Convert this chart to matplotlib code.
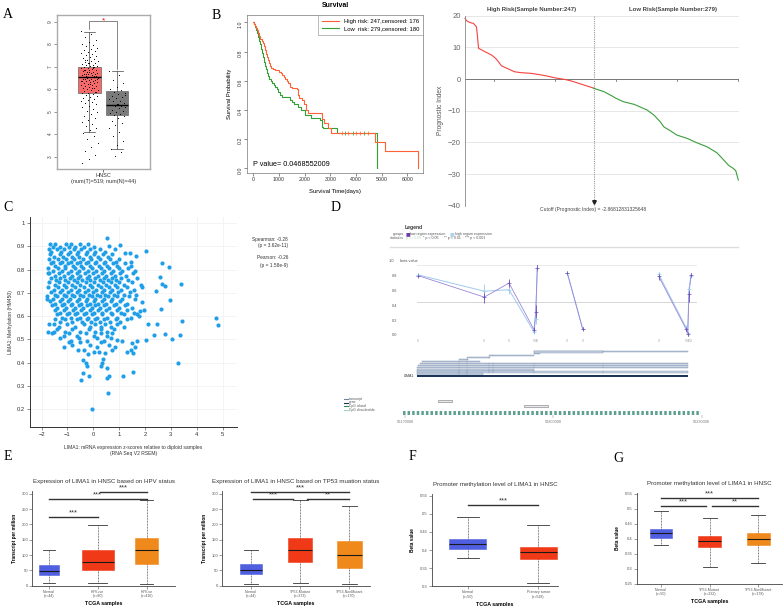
import numpy as np
import matplotlib
matplotlib.use("Agg")
import matplotlib.pyplot as plt
from matplotlib.patches import Rectangle
from matplotlib.lines import Line2D

plt.rcParams['font.family'] = ['Liberation Sans', 'DejaVu Sans']

W, H = 784, 606

# ---------------- data ----------------
# A: GEPIA expression box plot, log2(TPM+1)
a_tumor_box = dict(whislo=4.12, q1=5.82, med=6.53, q3=7.0, whishi=8.56)
a_normal_box = dict(whislo=3.36, q1=4.86, med=5.31, q3=5.94, whishi=6.81)
a_tumor_pts = [8.6, 8.45, 8.32, 8.21, 8.12, 8.03, 7.96, 7.91, 7.84, 7.8, 7.74, 7.71, 7.66, 7.6, 7.57,
               7.52, 7.47, 7.43, 7.38, 7.36, 7.31, 7.27, 7.25, 7.21, 7.18, 7.16, 7.12, 7.1, 7.07, 7.05,
               7.02, 7.0, 6.98, 6.96, 6.93, 6.91, 6.88, 6.86, 6.84, 6.81, 6.79, 6.77, 6.74, 6.72, 6.7,
               6.68, 6.66, 6.64, 6.62, 6.6, 6.58, 6.56, 6.55, 6.53, 6.51, 6.49, 6.47, 6.45, 6.43, 6.41,
               6.39, 6.37, 6.35, 6.33, 6.31, 6.29, 6.26, 6.24, 6.21, 6.19, 6.16, 6.13, 6.1, 6.07, 6.04,
               6.01, 5.98, 5.95, 5.92, 5.88, 5.85, 5.82, 5.78, 5.75, 5.71, 5.67, 5.63, 5.58, 5.54, 5.49,
               5.44, 5.38, 5.33, 5.26, 5.2, 5.13, 5.06, 4.98, 4.9, 4.83, 4.74, 4.66, 4.57, 4.48, 4.38,
               4.29, 4.18, 4.06, 3.92, 3.78, 3.62, 3.45, 3.28, 3.1, 2.92, 2.74, 6.95, 6.67, 6.48, 6.22,
               6.84, 6.58, 7.15, 6.36, 6.05, 7.32, 5.9, 6.75, 6.44, 6.97]
a_normal_pts = [6.8, 6.62, 6.41, 6.3, 6.12, 6.02, 5.95, 5.9, 5.84, 5.79, 5.71, 5.66, 5.61, 5.55, 5.5,
                5.46, 5.41, 5.36, 5.31, 5.28, 5.24, 5.2, 5.15, 5.1, 5.06, 5.01, 4.95, 4.9, 4.86, 4.8,
                4.71, 4.6, 4.52, 4.41, 4.3, 4.12, 3.91, 3.72, 3.53, 3.36, 3.2, 3.02, 5.74, 5.33]

# B: Kaplan-Meier curves
km_high_t = [0, 40, 80, 120, 160, 200, 240, 280, 320, 360, 400, 440, 480, 520, 560, 600, 650, 700,
             760, 850, 950, 1000, 1060, 1120, 1180, 1240, 1300, 1360, 1420, 1490, 1700, 1750, 1780,
             1900, 1960, 2050, 2150, 2680, 2740, 2900, 3020, 4760, 5150, 6400]
km_high_s = [1.0, 0.99, 0.975, 0.96, 0.945, 0.93, 0.905, 0.885, 0.87, 0.855, 0.835, 0.81, 0.785,
             0.76, 0.74, 0.72, 0.70, 0.685, 0.68, 0.675, 0.67, 0.66, 0.65, 0.64, 0.625, 0.61, 0.595,
             0.585, 0.56, 0.55, 0.545, 0.50, 0.48, 0.47, 0.44, 0.40, 0.377, 0.34, 0.308, 0.275, 0.24,
             0.183, 0.121, 0.0]
km_low_t = [0, 30, 60, 100, 140, 180, 220, 260, 300, 340, 380, 420, 460, 500, 540, 580, 620, 680,
            740, 800, 860, 920, 980, 1040, 1100, 1430, 1500, 1600, 1750, 1850, 2000, 2250, 2600,
            2660, 2730, 3270, 4830]
km_low_s = [1.0, 0.985, 0.97, 0.95, 0.925, 0.9, 0.875, 0.85, 0.82, 0.79, 0.76, 0.73, 0.70, 0.68,
            0.655, 0.635, 0.615, 0.60, 0.585, 0.57, 0.555, 0.54, 0.52, 0.50, 0.486, 0.47, 0.455,
            0.44, 0.42, 0.40, 0.365, 0.342, 0.33, 0.285, 0.274, 0.24, 0.0]
km_high_cens = [3440, 3700, 4000, 4160, 4480]
km_low_cens = [3560, 3900, 4300]

# B right: prognostic index curve
pi_high_idx = [0, 3, 10, 16, 22, 24, 26, 32, 41, 51, 59, 64, 70, 83, 95, 108, 127, 146, 159, 172,
               191, 204, 223, 247]
pi_high_val = [19.2, 18.4, 17.8, 17.6, 16.5, 13.4, 9.7, 9.2, 8.4, 7.6, 6.5, 5.5, 4.2, 3.2, 2.3, 2.0,
               1.8, 1.3, 0.9, 0.4, -0.1, -0.6, -1.6, -2.87]
pi_low_idx = [247, 267, 283, 290, 305, 325, 350, 363, 375, 382, 395, 407, 426, 445, 465, 484, 496,
              506, 515, 520, 525]
pi_low_val = [-2.9, -4.0, -5.4, -6.1, -7.2, -8.0, -9.8, -11.4, -13.5, -15.1, -16.4, -17.7, -18.7,
              -20.1, -21.4, -23.3, -25.4, -27.2, -28.2, -28.9, -31.9]
pi_cutoff = 247

# C: methylation vs mRNA scatter, points grouped by methylation level
c_levels = [0.912, 0.899, 0.889, 0.876, 0.868, 0.855, 0.848, 0.835, 0.827, 0.814, 0.807, 0.794,
            0.785, 0.772, 0.766, 0.754, 0.747, 0.734, 0.726, 0.712, 0.706, 0.693, 0.687, 0.674,
            0.665, 0.652, 0.647, 0.634, 0.626, 0.613, 0.607, 0.594, 0.586, 0.573, 0.567, 0.554,
            0.546, 0.533, 0.527, 0.514, 0.506, 0.494, 0.487, 0.476, 0.465, 0.456]
c_rows = [
    [-1.66, -1.47, -1.04, -0.86, -0.50, -0.21],
    [-1.57, -1.30, -0.95, -0.69, -0.37, 0.02],
    [-1.72, -1.40, -1.12, -0.76, -0.47, -0.11, 0.24, 0.82],
    [-1.63, -1.25, -0.92, -0.60, -0.25, 0.08, 0.47],
    [-1.66, -1.30, -0.99, -0.65, -0.30, 0.02, 0.37, 0.73],
    [-1.53, -1.18, -0.82, -0.54, -0.14, 0.19, 0.58],
    [-1.73, -1.38, -1.05, -0.73, -0.41, -0.08, 0.24, 0.63, 1.01],
    [-1.57, -1.21, -0.86, -0.52, -0.21, 0.12, 0.47, 0.86, 1.47],
    [-1.63, -1.27, -0.99, -0.63, -0.30, 0.06, 0.41, 0.77, 1.21],
    [-1.47, -1.10, -0.78, -0.46, -0.11, 0.21, 0.52, 0.92, 1.47],
    [-1.76, -1.38, -1.08, -0.72, -0.39, -0.04, 0.28, 0.60, 0.99, 1.35],
    [-1.56, -1.21, -0.88, -0.56, -0.21, 0.12, 0.43, 0.76, 1.12, 1.63],
    [-1.70, -1.34, -0.97, -0.65, -0.33, -0.01, 0.34, 0.67, 1.05, 1.54],
    [-1.49, -1.14, -0.81, -0.50, -0.16, 0.19, 0.51, 0.82, 1.25],
    [-1.63, -1.29, -0.91, -0.60, -0.26, 0.08, 0.41, 0.73, 1.08, 1.70],
    [-1.43, -1.08, -0.76, -0.42, -0.11, 0.25, 0.56, 0.86, 1.34],
    [-1.70, -1.34, -0.97, -0.65, -0.30, 0.02, 0.36, 0.67, 1.00, 1.51],
    [-1.50, -1.14, -0.82, -0.50, -0.14, 0.19, 0.51, 0.82, 1.17, 1.83],
    [-1.74, -1.36, -1.04, -0.72, -0.37, -0.04, 0.28, 0.59, 0.92, 1.31, 1.89],
    [-1.53, -1.21, -0.88, -0.54, -0.21, 0.12, 0.43, 0.74, 1.08, 1.57],
    [-1.63, -1.30, -0.97, -0.65, -0.33, -0.01, 0.32, 0.63, 0.95, 1.42],
    [-1.47, -1.14, -0.82, -0.50, -0.17, 0.15, 0.47, 0.80, 1.18, 1.67],
    [-1.79, -1.40, -1.07, -0.73, -0.39, -0.07, 0.25, 0.56, 0.90, 1.38],
    [-1.57, -1.23, -0.91, -0.56, -0.24, 0.08, 0.41, 0.73, 1.12, 1.63],
    [-1.66, -1.30, -0.97, -0.63, -0.29, 0.02, 0.34, 0.67, 1.05],
    [-1.47, -1.14, -0.81, -0.46, -0.14, 0.19, 0.51, 0.86, 1.31],
    [-1.59, -1.21, -0.88, -0.55, -0.24, 0.08, 0.43, 0.80, 1.21],
    [-1.40, -1.04, -0.72, -0.39, -0.07, 0.25, 0.60, 0.99, 1.51],
    [-1.50, -1.12, -0.78, -0.46, -0.14, 0.19, 0.51, 0.90, 1.29, 1.96],
    [-1.30, -0.95, -0.63, -0.30, 0.02, 0.34, 0.69, 1.08, 1.57],
    [-1.40, -1.01, -0.69, -0.37, -0.04, 0.34, 0.73, 1.18, 1.70],
    [-1.21, -0.86, -0.52, -0.21, 0.15, 0.54, 0.92, 1.44],
    [-1.47, -1.08, -0.63, -0.26, 0.08, 0.43, 0.86, 1.31],
    [-1.27, -0.82, -0.43, -0.08, 0.25, 0.64, 1.05],
    [-1.53, -1.01, -0.37, 0.08, 0.47, 0.92],
    [-1.34, -0.69, -0.11, 0.28, 0.67, 1.18],
    [-1.40, -0.82, -0.17, 0.28, 0.80],
    [-1.08, -0.50, 0.08, 0.54],
    [-1.59, -0.95, -0.30, 0.28, 0.73],
    [-1.14, -0.63, 0.02, 0.54],
    [-1.27, -0.56, 0.15, 0.67],
    [-0.88, -0.24, 0.41],
    [-0.95, -0.50, 0.28],
    [-0.82, -0.11, 0.60],
    [-1.14, 0.15],
    [-0.37, 0.73],
]
c_out_x = [0.54, 0.62, 1.05, 1.23, 1.42, 1.65, 2.03, 2.65, 2.91, 2.58, 2.67, 2.78, 3.38, 2.97, 2.42,
           2.62, 3.45, 4.75, 4.84, 2.11, 2.45, 2.35, 2.76, 3.05, 3.36, 2.03, 3.29, 1.55, 1.14, 0.61,
           0.54, 0.58, -0.49, -0.39, -0.16, -0.23, -0.41, -0.28, 0.28, 0.34, 0.39, 0.52, 0.45, 0.21,
           0.04, -0.22, -0.59, 1.29, 1.45, 1.55, 1.61, 1.49, 1.68, 0.84, 0.90, 1.10, -0.06, 1.81,
           1.75, 1.90, -1.74, -1.52, -1.71, -1.81, -1.74]
c_out_y = [0.938, 0.904, 0.905, 0.87, 0.87, 0.86, 0.88, 0.83, 0.81, 0.77, 0.74, 0.73, 0.74, 0.67,
           0.71, 0.63, 0.58, 0.59, 0.56, 0.565, 0.565, 0.52, 0.525, 0.50, 0.52, 0.497, 0.396, 0.358,
           0.343, 0.343, 0.332, 0.27, 0.323, 0.353, 0.343, 0.385, 0.41, 0.397, 0.385, 0.40, 0.414,
           0.376, 0.44, 0.444, 0.447, 0.437, 0.454, 0.447, 0.454, 0.443, 0.468, 0.483, 0.494, 0.468,
           0.496, 0.494, 0.20, 0.62, 0.60, 0.66, 0.53, 0.53, 0.566, 0.675, 0.785]

# D: MEXPRESS-style methylation along the LIMA1 locus
d_probe_pos = [50172700, 50186040, 50191040, 50196090, 50196440, 50196760, 50202830, 50205940,
               50221320, 50226840, 50227180, 50227440, 50227850]
d_low = [0.80, 0.51, 0.70, 0.07, 0.31, 0.91, 0.84, 0.08, 0.79, 0.08, 0.01, 0.55, 0.81]
d_high = [0.81, 0.59, 0.61, 0.04, 0.22, 0.90, 0.83, 0.08, 0.82, 0.10, 0.02, 0.62, 0.80]
d_low_err = [0.02, 0.08, 0.05, 0.03, 0.10, 0.05, 0.02, 0.02, 0.05, 0.03, 0.02, 0.10, 0.03]
d_high_err = [0.02, 0.10, 0.06, 0.03, 0.07, 0.05, 0.02, 0.02, 0.03, 0.03, 0.02, 0.06, 0.03]
d_segment = [0, 0, 0, 0, 0, 0, 1, 1, 2, 2, 2, 2, 2]
d_tx_start = [50196100, 50196100, 50187000, 50182500, 50180900, 50173400, 50173000, 50172700,
              50172400, 50172400, 50172400, 50172400, 50172400]
d_tx_end = [50227300, 50197300, 50196100, 50187200, 50182700, 50185200, 50227300, 50227300,
            50227300, 50196100, 50227300, 50185800, 50227300]
d_exons = [50180900, 50182500, 50187000, 50187900, 50196100, 50210100]
d_features = [(50176600, 50179600), (50194000, 50199000)]
d_xlim = (50168989, 50230883)

# E/F/G: UALCAN box plots (whislo, q1, med, q3, whishi)
e_hpv_labels = ["Normal\n(n=44)", "HPV+ve\n(n=80)", "HPV-ve\n(n=416)"]
e_hpv_stats = [(7.6, 33.7, 47.8, 67.4, 117), (9.8, 51, 76, 115, 198), (6.5, 70.7, 115, 154, 278)]
e_hpv_sig = [(1, 2, 225, "***"), (1, 3, 283.7, "***"), (2.05, 3, 304.5, "***")]

e_tp53_labels = ["Normal\n(n=44)", "TP53-Mutant\n(n=373)", "TP53-NonMutant\n(n=170)"]
e_tp53_stats = [(7, 37, 50, 69.6, 117), (9.8, 76, 115, 154, 278), (6.5, 58.7, 100, 145.6, 261)]
e_tp53_sig = [(1, 3, 306.5, "***"), (1.05, 1.86, 283.7, "***"), (2.13, 3.0, 283.7, "**")]

f_labels = ["Normal\n(n=50)", "Primary tumor\n(n=528)"]
f_stats = [(0.377, 0.403, 0.4167, 0.4305, 0.492), (0.310, 0.3745, 0.3937, 0.409, 0.469)]
f_sig = [(1, 2, 0.5235, "***")]

g_labels = ["Normal\n(n=50)", "TP53-Mutant\n(n=332)", "TP53-NonMutant\n(n=178)"]
g_stats = [(0.378, 0.403, 0.418, 0.432, 0.492), (0.3056, 0.373, 0.394, 0.409, 0.47),
           (0.32, 0.379, 0.398, 0.42, 0.481)]
g_sig = [(1, 3, 0.5366, "***"), (1, 1.92, 0.511, "***"), (2.05, 3, 0.511, "**")]

BLUE, RED, ORANGE = '#4f5fe0', '#f03a17', '#f0891c'

# ---------------- figure ----------------
fig = plt.figure(figsize=(7.84, 6.06), dpi=100)


def px_axes(x0, y0, x1, y1):
    return fig.add_axes([x0 / W, 1 - y1 / H, (x1 - x0) / W, (y1 - y0) / H])


def px_text(x, y, s, **kw):
    fig.text(x / W, 1 - y / H, s, **kw)


for lab, x, y in [("A", 7.5, 14), ("B", 216, 15.5), ("C", 7.5, 207), ("D", 336, 207),
                  ("E", 7.5, 457), ("F", 412.5, 457), ("G", 618, 458)]:
    px_text(x, y, lab, ha='center', va='center', fontsize=10, family='Liberation Serif')

# ---- A
ax = px_axes(56.7, 15, 150, 169.3)
bp = ax.bxp([a_tumor_box, a_normal_box], positions=[1, 2], widths=0.81, patch_artist=True,
            showfliers=False, boxprops=dict(linewidth=0.5, edgecolor='#666'),
            whiskerprops=dict(linewidth=0.5, color='#444'), capprops=dict(linewidth=0.5, color='#444'),
            medianprops=dict(color='black', linewidth=1.0), capwidths=0.4)
bp['boxes'][0].set_facecolor('#f86a6a')
bp['boxes'][1].set_facecolor('#7a7a7a')


def jitter(n, width):
    # deterministic spread, used only to place the dots side by side
    return ((np.arange(n) * 0.618034) % 1.0 - 0.5) * width


ax.scatter(1 + jitter(len(a_tumor_pts), 0.62), a_tumor_pts, s=0.5, color='black', zorder=5, linewidths=0)
ax.scatter(2 + jitter(len(a_normal_pts), 0.6), a_normal_pts, s=0.5, color='black', zorder=5, linewidths=0)
ax.plot([1, 1, 2, 2], [8.7, 9.02, 9.02, 6.9], color='#555', lw=0.5)
ax.text(1.5, 9.02, "*", color='red', ha='center', va='center', fontsize=6)
ax.set_xlim(-0.18, 3.18)
ax.set_ylim(2.45, 9.3)
ax.set_yticks(range(3, 10))
ax.tick_params(axis='y', labelsize=3.5, length=2, width=0.4, colors='#444', labelrotation=90, pad=1)
ax.set_xticks([1.5])
ax.set_xticklabels(["HNSC\n(num(T)=519; num(N)=44)"], fontsize=4, color='#333')
ax.tick_params(axis='x', length=2, width=0.4, pad=1)
for s in ax.spines.values():
    s.set_color('#aaaaaa')
    s.set_linewidth(1.0)

# ---- B survival
ax = px_axes(247, 15, 423, 173)


def km_at(times, surv, t):
    return surv[np.searchsorted(times, t, side='right') - 1]


ax.step(km_low_t, km_low_s, where='post', color='#33a033', lw=0.8,
        label="Low  risk: 279,censored: 180")
ax.step(km_high_t, km_high_s, where='post', color='#ff6236', lw=0.8,
        label="High risk: 247,censored: 176")
ax.plot(km_high_cens, [km_at(km_high_t, km_high_s, t) for t in km_high_cens], '|', color='#ff6236', ms=2.5, mew=0.5)
ax.plot(km_low_cens, [km_at(km_low_t, km_low_s, t) for t in km_low_cens], '|', color='#33a033', ms=2.5, mew=0.5)
handles, labels = ax.get_legend_handles_labels()
leg = ax.legend(handles[::-1], labels[::-1], loc='upper right', fontsize=4.2, frameon=True,
                fancybox=False, edgecolor='#888', borderaxespad=0, handlelength=3, borderpad=0.6,
                labelspacing=0.4)
leg.get_frame().set_linewidth(0.5)
ax.text(0, 0.0, "P value= 0.0468552009", fontsize=5.2, va='bottom', ha='left')
ax.set_xlim(-245, 6611)
ax.set_ylim(-0.032, 1.05)
ax.set_xticks(range(0, 7000, 1000))
ax.set_yticks([0, 0.2, 0.4, 0.6, 0.8, 1.0])
ax.set_yticklabels(["0.0", "0.2", "0.4", "0.6", "0.8", "1.0"])
ax.tick_params(labelsize=3.8, length=2, width=0.4, pad=1, colors='#333')
ax.tick_params(axis='y', labelrotation=90)
ax.set_xlabel("Survival Time(days)", fontsize=4.2, labelpad=5)
ax.set_ylabel("Survival Probability", fontsize=4.2, labelpad=4)
ax.set_title("Survival", fontsize=5, fontweight='bold', pad=6)
for s in ax.spines.values():
    s.set_color('#777')
    s.set_linewidth(0.5)

# ---- B prognostic index
ax = px_axes(465, 15.7, 739, 205.7)
ax.set_xlim(0, 526.3)
ax.set_ylim(-40, 20)
for y in [-30, -20, -10, 10, 20]:
    ax.axhline(y, color='#e3e3e3', lw=0.6, zorder=0)
ax.axhline(0, color='#777', lw=0.7, zorder=1)
for t in [56, 173, 290, 407, 525]:
    ax.plot([t, t], [0, -0.7], color='#777', lw=0.6)
ax.axvline(pi_cutoff, color='#999', ls=(0, (1, 1)), lw=0.8)
ax.plot(pi_high_idx, pi_high_val, color='#f4423e', lw=0.8, clip_on=False)
ax.plot(pi_low_idx, pi_low_val, color='#3a9e3a', lw=0.8, clip_on=False)
ax.plot([pi_cutoff], [-38.8], marker='v', ms=2.6, color='#222', clip_on=False)
ax.set_yticks(range(-40, 30, 10))
ax.set_xticks([])
ax.tick_params(axis='y', length=0, labelsize=5.5, colors='#666', pad=3)
for k in ['top', 'right', 'bottom']:
    ax.spines[k].set_visible(False)
ax.spines['left'].set_color('#888')
ax.spines['left'].set_linewidth(0.6)
ax.set_ylabel("Prognostic Index", fontsize=4.8, color='#555', labelpad=3)
px_text(532, 9.5, "High Risk(Sample Number:247)", ha='center', va='center', fontsize=4.3,
        fontweight='bold', color='#444')
px_text(673, 9.5, "Low Risk(Sample Number:279)", ha='center', va='center', fontsize=4.3,
        fontweight='bold', color='#444')
px_text(593, 209, "Cutoff (Prognostic Index) = -2.86812831325648", ha='center', va='center',
        fontsize=3.6, color='#444')

# ---- C scatter
ax = px_axes(30, 217, 237, 427.3)
cx = [x for row in c_rows for x in row] + c_out_x
cy = [lv for lv, row in zip(c_levels, c_rows) for _ in row] + c_out_y
ax.scatter(cx, cy, s=9, color='#1f9fe8', linewidths=0, zorder=3)
ax.set_xlim(-2.45, 5.56)
ax.set_ylim(0.121, 1.027)
ax.set_xticks(range(-2, 6))
ax.set_yticks([0.2, 0.3, 0.4, 0.5, 0.6, 0.7, 0.8, 0.9, 1.0])
ax.set_yticklabels(["0.2", "0.3", "0.4", "0.5", "0.6", "0.7", "0.8", "0.9", "1"])
ax.grid(True, color='#f0f0f0', lw=0.5)
ax.set_axisbelow(True)
ax.tick_params(labelsize=4.2, length=2, width=0.4, pad=1.5, colors='#333')
for k in ['top', 'right']:
    ax.spines[k].set_visible(False)
for k in ['left', 'bottom']:
    ax.spines[k].set_color('#333')
    ax.spines[k].set_linewidth(0.7)
ax.set_ylabel("LIMA1: Methylation (HM450)", fontsize=3.6, color='#333', labelpad=3)
ax.set_xlabel("LIMA1: mRNA expression z-scores relative to diploid samples\n(RNA Seq V2 RSEM)",
              fontsize=3.6, color='#333', labelpad=6)
for y, s in [(239, "Spearman: -0.28"), (246, "(p = 3.62e-11)"), (257, "Pearson: -0.26"), (265, "(p = 1.58e-9)")]:
    px_text(288, y, s, ha='right', va='center', fontsize=3.4, color='#333')

# ---- D methylation track
px_text(405, 227, "Legend", fontsize=3.6, fontweight='bold', va='center', color='#333')
px_text(404, 233.7, "groups", fontsize=2.6, ha='right', va='center', color='#555')
px_text(405.5, 233.7, "\u25a0", fontsize=3.6, va='center', color='#6a3fa0', family='DejaVu Sans')
px_text(410, 233.7, "low region expression", fontsize=2.6, va='center', color='#555')
px_text(450, 233.7, "\u25a0", fontsize=3.6, va='center', color='#a9d3ee', family='DejaVu Sans')
px_text(455, 233.7, "high region expression", fontsize=2.6, va='center', color='#555')
px_text(404, 237.7, "statistics", fontsize=2.6, ha='right', va='center', color='#555')
for x, s, c in [(406, "p >= 0.05", '#b8d8b8'), (423, "* p < 0.05", '#555'),
                (444, "** p < 0.01", '#555'), (465, "*** p < 0.001", '#555')]:
    px_text(x, 237.7, s, fontsize=2.6, va='center', color=c)
fig.add_artist(Line2D([390 / W, 738 / W], [1 - 246.7 / H] * 2, color='#dddddd', lw=1.0))

ax = px_axes(400, 265.3, 706, 339.3)
ax.set_xlim(*d_xlim)
ax.set_ylim(-0.06, 0.94)
for y, c in [(0.94, '#e6e6e6'), (0.44, '#cfcfcf'), (-0.06, '#cfcfcf')]:
    ax.plot([50172400, 50228900], [y, y], color=c, lw=0.6, zorder=0)
pos = np.array(d_probe_pos)
seg = np.array(d_segment)
for g in sorted(set(d_segment)):
    m = seg == g
    ax.plot(pos[m], np.array(d_high)[m], color='#9fcbea', lw=0.7)
    ax.plot(pos[m], np.array(d_low)[m], color='#9a86da', lw=0.6)
ax.errorbar(d_probe_pos, d_high, yerr=d_high_err, fmt='+', ms=2.5, mew=0.5, color='#9fcbea',
            elinewidth=0.6, capsize=0)
ax.errorbar(d_probe_pos, d_low, yerr=d_low_err, fmt='+', ms=2.5, mew=0.5, color='#6a4fb8',
            elinewidth=0.6, capsize=0)
ax.set_yticks([0, 0.2, 0.4, 0.6, 0.8])
ax.set_yticklabels(["0.0", "0.2", "0.4", "0.6", "0.8"])
ax.set_xticks(d_probe_pos)
ax.set_xticklabels([])
ax.tick_params(axis='y', length=0, labelsize=2.8, colors='#555', pad=2)
ax.tick_params(axis='x', length=2, width=0.3, colors='#777')
for s in ax.spines.values():
    s.set_visible(False)
ax.text(-0.02, 1.06, "1.0", transform=ax.transAxes, fontsize=2.8, color='#555', ha='right', va='center')
ax.text(0.0, 1.06, "beta value", transform=ax.transAxes, fontsize=2.8, color='#555', ha='left', va='center')

ax = px_axes(400, 349, 706, 379)
ax.set_xlim(*d_xlim)
ax.set_ylim(13.5, -1.34)
n_tx = len(d_tx_start)
for i, (a, b) in enumerate(zip(d_tx_start, d_tx_end)):
    if i == n_tx - 1:
        ax.add_patch(Rectangle((a, i - 0.45), b - a, 0.9, facecolor='#1c3557', edgecolor='none'))
    else:
        ax.add_patch(Rectangle((a, i - 0.3), b - a, 0.6, facecolor='#c7d1e1', edgecolor='#7b8fb0', lw=0.3))
        for e in d_exons:
            if a < e < b:
                ax.plot([e, e], [i - 0.3, i + 0.3], color='#7b8fb0', lw=0.3)
ax.add_patch(Rectangle((50196100, -0.45), 50210100 - 50196100, 0.9, facecolor='#c7d1e1',
                       edgecolor='#7b8fb0', lw=0.3))
ax.text(50171900, n_tx - 1, "LIMA1", fontsize=2.6, ha='right', va='center', color='#333')
ax.axis('off')

ax = px_axes(400, 396, 706, 409)
ax.set_xlim(*d_xlim)
ax.set_ylim(0, 1)
for (a, b), y in zip(d_features, [0.62, 0.23]):
    ax.add_patch(Rectangle((a, y - 0.1), b - a, 0.2, facecolor='#e8e8ee', edgecolor='#777', lw=0.4))
ax.axis('off')

ax = px_axes(400, 410.5, 706, 415)
ax.set_xlim(*d_xlim)
ax.set_ylim(-1, 1)
ax.plot([50169600, 50229900], [0, 0], color='#5f9f8f', lw=3.0, ls=(0, (0.6, 0.5)))
ax.set_yticks([])
ax.set_xticks([50170000, 50200000, 50230000])
ax.set_xticklabels(["50170000", "50200000", "50230000"], fontsize=2.8, color='#555')
ax.tick_params(axis='x', length=2, width=0.3, pad=1.5, colors='#777')
for s in ax.spines.values():
    s.set_visible(False)

for y, s, c in [(399, "transcript", '#6f83a3'), (402.5, "gene", '#1c3557'),
                (406.3, "CpG island", '#2e8b57'), (410, "CpG dinucleotide", '#9fd6c4')]:
    fig.add_artist(Line2D([344 / W, 347.5 / W], [1 - y / H] * 2, color=c, lw=0.8))
    px_text(349, y, s, fontsize=2.4, va='center', color='#555')


# ---- E/F/G UALCAN box plots
def ualcan(ax, stats, labels, colors, widths, sig, ylim, yticks, yfmt, xlim, ylabel, title):
    bstats = [dict(whislo=s[0], q1=s[1], med=s[2], q3=s[3], whishi=s[4]) for s in stats]
    pos = list(range(1, len(stats) + 1))
    bp = ax.bxp(bstats, positions=pos, widths=widths, patch_artist=True, showfliers=False,
                boxprops=dict(linewidth=0.4),
                whiskerprops=dict(linewidth=0.5, color='#333', linestyle=(0, (1.2, 1.0))),
                capprops=dict(linewidth=0.6, color='#333'),
                medianprops=dict(color='#1a1a1a', linewidth=0.8),
                capwidths=[w * 0.6 for w in widths])
    for patch, c in zip(bp['boxes'], colors):
        patch.set_facecolor(c)
        patch.set_edgecolor(c)
    for x1, x2, y, s in sig:
        ax.plot([x1, x2], [y, y], color='#333', lw=1.0, clip_on=False)
        ax.annotate(s, ((x1 + x2) / 2, y), xytext=(0, 0.4), textcoords='offset points',
                    ha='center', va='bottom', fontsize=5.5, color='#333', annotation_clip=False)
    ax.set_xlim(*xlim)
    ax.set_ylim(*ylim)
    ax.set_yticks(yticks)
    ax.set_yticklabels([yfmt.format(v) for v in yticks])
    ax.set_xticks(pos)
    ax.set_xticklabels(labels, fontsize=2.6, color='#666')
    ax.tick_params(axis='y', labelsize=3.0, colors='#555', length=2, width=0.4, pad=1)
    ax.tick_params(axis='x', length=2, width=0.4, pad=1, colors='#555')
    for k in ['top', 'right']:
        ax.spines[k].set_visible(False)
    for k in ['left', 'bottom']:
        ax.spines[k].set_color('#444')
        ax.spines[k].set_linewidth(0.6)
    ax.set_ylabel(ylabel, fontsize=3.4, fontweight='bold', labelpad=3)
    ax.set_xlabel("TCGA samples", fontsize=3.8, fontweight='bold', labelpad=2)
    ax.set_title(title, fontsize=4.4, color='#333', pad=5.5)


ax = px_axes(32.3, 490.6, 175, 585.7)
ualcan(ax, e_hpv_stats, e_hpv_labels, [BLUE, RED, ORANGE], [0.42, 0.66, 0.46], e_hpv_sig,
       (0, 310), [0, 50, 100, 150, 200, 250, 300], "{:g}", (0.66, 3.58),
       "Transcript per million", "Expression of LIMA1 in HNSC based on HPV status")

ax = px_axes(222.3, 490.6, 370, 585.7)
ualcan(ax, e_tp53_stats, e_tp53_labels, [BLUE, RED, ORANGE], [0.46, 0.5, 0.5], e_tp53_sig,
       (0, 310), [0, 50, 100, 150, 200, 250, 300], "{:g}", (0.417, 3.42),
       "Transcript per million", "Expression of LIMA1 in HNSC based on TP53 muation status")

ax = px_axes(431.7, 494, 558, 586.3)
ualcan(ax, f_stats, f_labels, [BLUE, RED], [0.52, 0.52], f_sig,
       (0.3, 0.5547), [0.3, 0.35, 0.4, 0.45, 0.5, 0.55], "{:g}", (0.49, 2.28),
       "Beta value", "Promoter methylation level of LIMA1 in HNSC")

ax = px_axes(636.7, 492.5, 781.7, 583.7)
ualcan(ax, g_stats, g_labels, [BLUE, RED, ORANGE], [0.47, 0.47, 0.47], g_sig,
       (0.25, 0.555), [0.25, 0.3, 0.35, 0.4, 0.45, 0.5, 0.55], "{:g}", (0.5, 3.48),
       "Beta value", "Promoter methylation level of LIMA1 in HNSC")

fig.savefig("out.png", dpi=100)
